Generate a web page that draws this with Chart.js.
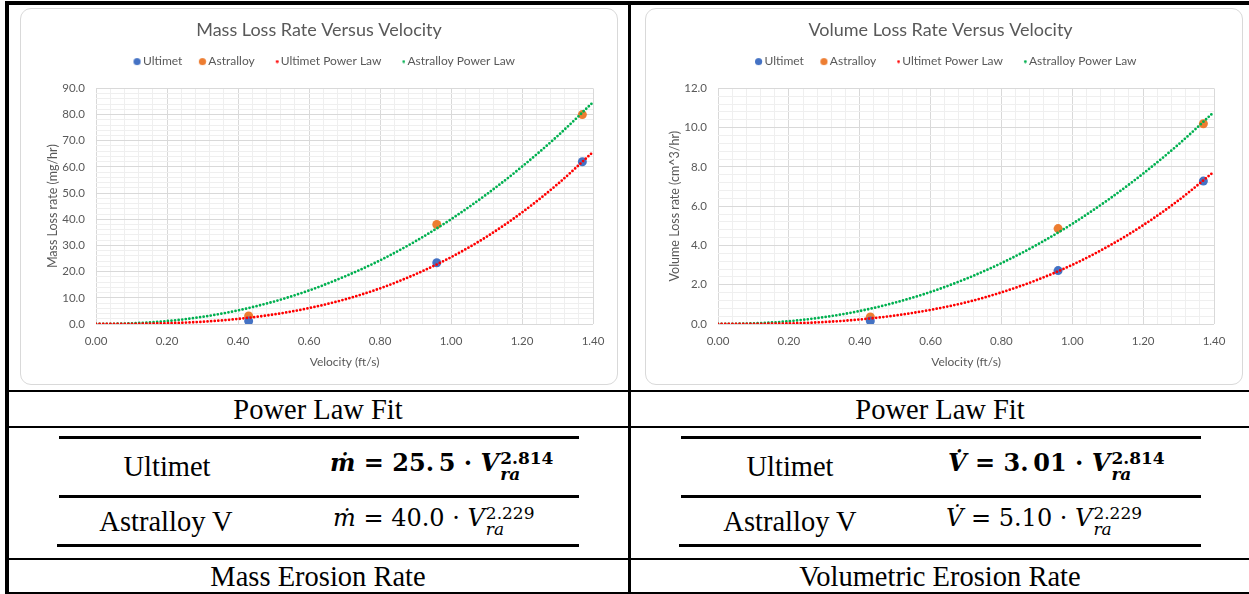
<!DOCTYPE html>
<html>
<head>
<meta charset="utf-8">
<script src="https://cdn.jsdelivr.net/npm/chart.js@4.4.0/dist/chart.umd.min.js"></script>
<style>
  body { margin: 0; width: 1249px; height: 594px; background: #fff; position: relative; overflow: hidden; }
  .ln { position: absolute; background: #000; }
  .card { position: absolute; border: 1px solid #d9d9d9; border-radius: 11px; box-sizing: border-box; background: #fff; }
  canvas { position: absolute; }
  .txt { position: absolute; font-family: "Liberation Serif", "Times New Roman", serif; font-size: 28.5px; line-height: 1; color: #000; white-space: nowrap; transform: translate(-50%, -50%); }
  .f { position: absolute; font-family: "DejaVu Serif", serif; font-size: 24px; line-height: 1; color: #000; white-space: nowrap; transform: translateY(-50%); }
  .f.b { font-weight: bold; }
  .ss { display: inline-block; vertical-align: -9px; font-size: 17px; line-height: 16px; margin-left: 1px; }
  .ss span { display: block; }
</style>
</head>
<body>
<div class="card" style="left:20px;top:8px;width:598px;height:377px"></div>
<div class="card" style="left:645px;top:8px;width:598px;height:377px"></div>
<canvas id="massChart" width="598" height="377" style="left:20px;top:8px"></canvas>
<canvas id="volumeChart" width="598" height="377" style="left:645px;top:8px"></canvas>

<!-- table lines -->
<div class="ln" style="left:5px;top:1px;width:1244px;height:4px"></div>
<div class="ln" style="left:5px;top:1px;width:4px;height:593px"></div>
<div class="ln" style="left:628px;top:1px;width:3px;height:593px"></div>
<div class="ln" style="left:5px;top:390px;width:1244px;height:2px"></div>
<div class="ln" style="left:5px;top:426px;width:1244px;height:2px"></div>
<div class="ln" style="left:5px;top:558px;width:1244px;height:2px"></div>
<div class="ln" style="left:5px;top:592px;width:1244px;height:2px"></div>
<div class="ln" style="left:59px;top:436px;width:520px;height:3px"></div>
<div class="ln" style="left:59px;top:495px;width:520px;height:3px"></div>
<div class="ln" style="left:57px;top:544px;width:522px;height:3px"></div>
<div class="ln" style="left:681px;top:436px;width:520px;height:3px"></div>
<div class="ln" style="left:681px;top:495px;width:520px;height:3px"></div>
<div class="ln" style="left:679px;top:544px;width:522px;height:3px"></div>

<div class="txt" style="left:318px;top:410px">Power Law Fit</div>
<div class="txt" style="left:940px;top:410px">Power Law Fit</div>
<div class="txt" style="left:167px;top:467px">Ultimet</div>
<div class="txt" style="left:166px;top:522px">Astralloy V</div>
<div class="txt" style="left:790px;top:467px">Ultimet</div>
<div class="txt" style="left:790px;top:522px">Astralloy V</div>
<div class="txt" style="left:318px;top:577px">Mass Erosion Rate</div>
<div class="txt" style="left:940px;top:577px">Volumetric Erosion Rate</div>

<div class="f b" style="left:330px;top:466px"><i>ṁ</i> = 25.&#8201;5 · <i>V</i><span class="ss"><span>2.814</span><span><i>ra</i></span></span></div>
<div class="f" style="left:333px;top:521px"><i>ṁ</i> = 40.0 · <i>V</i><span class="ss"><span>2.229</span><span><i>ra</i></span></span></div>
<div class="f b" style="left:948px;top:466px"><i>V̇</i> = 3.&#8201;01 · <i>V</i><span class="ss"><span>2.814</span><span><i>ra</i></span></span></div>
<div class="f" style="left:946px;top:521px"><i>V̇</i> = 5.10 · <i>V</i><span class="ss"><span>2.229</span><span><i>ra</i></span></span></div>

<script>
const velocity = [0.43, 0.96, 1.37];
const ultimetMass = [1.1, 23.4, 62.0];
const astralloyMass = [3.1, 38.0, 80.0];
const ultimetVolume = [0.15, 2.72, 7.28];
const astralloyVolume = [0.36, 4.86, 10.2];

// power law trend curves, read every 0.1 ft/s
const fitVelocity = [0, 0.1, 0.2, 0.3, 0.4, 0.5, 0.6, 0.7, 0.8, 0.9, 1.0, 1.1, 1.2, 1.3, 1.4];
const ultimetMassFit = [0, 0.04, 0.28, 0.86, 1.94, 3.63, 6.06, 9.35, 13.6, 19.0, 25.5, 33.3, 42.6, 53.4, 65.7];
const astralloyMassFit = [0, 0.24, 1.11, 2.73, 5.19, 8.53, 12.8, 18.1, 24.3, 31.6, 40.0, 49.5, 60.1, 71.8, 84.7];
const ultimetVolumeFit = [0, 0.005, 0.03, 0.1, 0.23, 0.43, 0.72, 1.1, 1.61, 2.24, 3.01, 3.94, 5.03, 6.3, 7.76];
const astralloyVolumeFit = [0, 0.03, 0.14, 0.35, 0.66, 1.09, 1.63, 2.3, 3.1, 4.03, 5.1, 6.31, 7.66, 9.15, 10.8];

const seriesNames = ["Ultimet", "Astralloy", "Ultimet Power Law", "Astralloy Power Law"];
const seriesColors = ["#4472c4", "#ed7d31", "#ff0000", "#00b050"];

const textColor = "#595959";
const fontFamily = "Lato, 'Open Sans', sans-serif";

function toPoints(xs, ys) {
  return xs.map((x, i) => ({ x, y: ys[i] }));
}

// legend marker: dot drawn at the right side of a wider transparent image
function legendDot(color, radius, offset) {
  const c = document.createElement("canvas");
  const half = offset + radius + 1;
  c.width = half * 2;
  c.height = radius * 2 + 2;
  const ctx = c.getContext("2d");
  ctx.fillStyle = color;
  ctx.beginPath();
  ctx.arc(half + offset, c.height / 2, radius, 0, Math.PI * 2);
  ctx.fill();
  return c;
}

const legendDots = [
  legendDot(seriesColors[0], 3.6, 7),
  legendDot(seriesColors[1], 3.6, 7),
  legendDot(seriesColors[2], 1.4, 9),
  legendDot(seriesColors[3], 1.4, 9),
];

function isMajor(value, major) {
  const r = value / major;
  return Math.abs(r - Math.round(r)) < 1e-6;
}

function makeChart(canvas, opts) {
  const pointSet = (label, ys, color) => ({
    label,
    data: toPoints(velocity, ys),
    backgroundColor: color,
    borderColor: color,
    pointRadius: 4.5,
    pointHoverRadius: 4.5,
    pointBorderWidth: 0,
    showLine: false,
    order: 2,
  });
  const curveSet = (label, ys, color) => ({
    label,
    data: toPoints(fitVelocity, ys),
    borderColor: color,
    backgroundColor: color,
    borderWidth: 2.8,
    borderDash: [0, 3.6],
    borderCapStyle: "round",
    pointRadius: 0,
    showLine: true,
    cubicInterpolationMode: "monotone",
    order: 1,
  });

  return new Chart(canvas, {
    type: "scatter",
    data: {
      datasets: [
        pointSet(seriesNames[0], opts.ultimet, seriesColors[0]),
        pointSet(seriesNames[1], opts.astralloy, seriesColors[1]),
        curveSet(seriesNames[2], opts.ultimetFit, seriesColors[2]),
        curveSet(seriesNames[3], opts.astralloyFit, seriesColors[3]),
      ],
    },
    options: {
      responsive: false,
      animation: false,
      events: [],
      layout: { padding: { left: opts.padLeft, right: opts.padRight, top: 0, bottom: 16 } },
      plugins: {
        title: {
          display: true,
          text: opts.title,
          color: textColor,
          font: { family: fontFamily, size: 18, weight: "normal" },
          padding: { top: 11, bottom: 9 },
        },
        legend: {
          display: true,
          position: "top",
          labels: {
            color: textColor,
            font: { family: fontFamily, size: 12 },
            usePointStyle: true,
            pointStyleWidth: 14,
            boxHeight: 12,
            padding: 6,
            generateLabels(chart) {
              const items = Chart.defaults.plugins.legend.labels.generateLabels(chart);
              items.sort((a, b) => a.datasetIndex - b.datasetIndex);
              items.forEach((item) => {
                item.pointStyle = legendDots[item.datasetIndex];
              });
              return items;
            },
          },
        },
        subtitle: {
          display: true,
          text: "",
          weight: 500,
          font: { size: 9 },
          padding: 0,
        },
        tooltip: { enabled: false },
      },
      scales: {
        x: {
          type: "linear",
          min: 0,
          max: 1.4,
          afterFit: (scale) => {
            scale.height = 45;
          },
          border: { display: false },
          grid: {
            drawTicks: false,
            color: (ctx) => (isMajor(ctx.tick.value, 0.2) ? "#d9d9d9" : "#efefef"),
          },
          ticks: {
            stepSize: 0.04,
            maxTicksLimit: 100,
            autoSkip: false,
            maxRotation: 0,
            padding: 10,
            color: textColor,
            font: { family: fontFamily, size: 11.5 },
            callback: (value) => (isMajor(value, 0.2) ? value.toFixed(2) : ""),
          },
          title: {
            display: true,
            text: "Velocity (ft/s)",
            color: textColor,
            font: { family: fontFamily, size: 12 },
            padding: 0,
          },
        },
        y: {
          type: "linear",
          min: 0,
          max: opts.yMax,
          afterFit: (scale) => {
            scale.width = 51;
          },
          border: { display: false },
          grid: {
            drawTicks: false,
            color: (ctx) => (isMajor(ctx.tick.value, opts.yMajor) ? "#d9d9d9" : "#efefef"),
          },
          ticks: {
            stepSize: opts.yMinor,
            maxTicksLimit: 100,
            autoSkip: false,
            padding: 11,
            color: textColor,
            font: { family: fontFamily, size: 11.5 },
            callback: (value) => (isMajor(value, opts.yMajor) ? value.toFixed(1) : ""),
          },
          title: {
            display: true,
            text: opts.yTitle,
            color: textColor,
            font: { family: fontFamily, size: 12.5 },
            padding: 0,
          },
        },
      },
    },
  });
}

makeChart(document.getElementById("massChart"), {
  title: "Mass Loss Rate Versus Velocity",
  yTitle: "Mass Loss rate (mg/hr)",
  yMax: 90,
  yMajor: 10,
  yMinor: 2,
  padLeft: 25,
  padRight: 25,
  ultimet: ultimetMass,
  astralloy: astralloyMass,
  ultimetFit: ultimetMassFit,
  astralloyFit: astralloyMassFit,
});

makeChart(document.getElementById("volumeChart"), {
  title: "Volume Loss Rate Versus Velocity",
  yTitle: "Volume Loss rate (cm^3/hr)",
  yMax: 12,
  yMajor: 2,
  yMinor: 0.4,
  padLeft: 22,
  padRight: 29,
  ultimet: ultimetVolume,
  astralloy: astralloyVolume,
  ultimetFit: ultimetVolumeFit,
  astralloyFit: astralloyVolumeFit,
});
</script>
</body>
</html>
